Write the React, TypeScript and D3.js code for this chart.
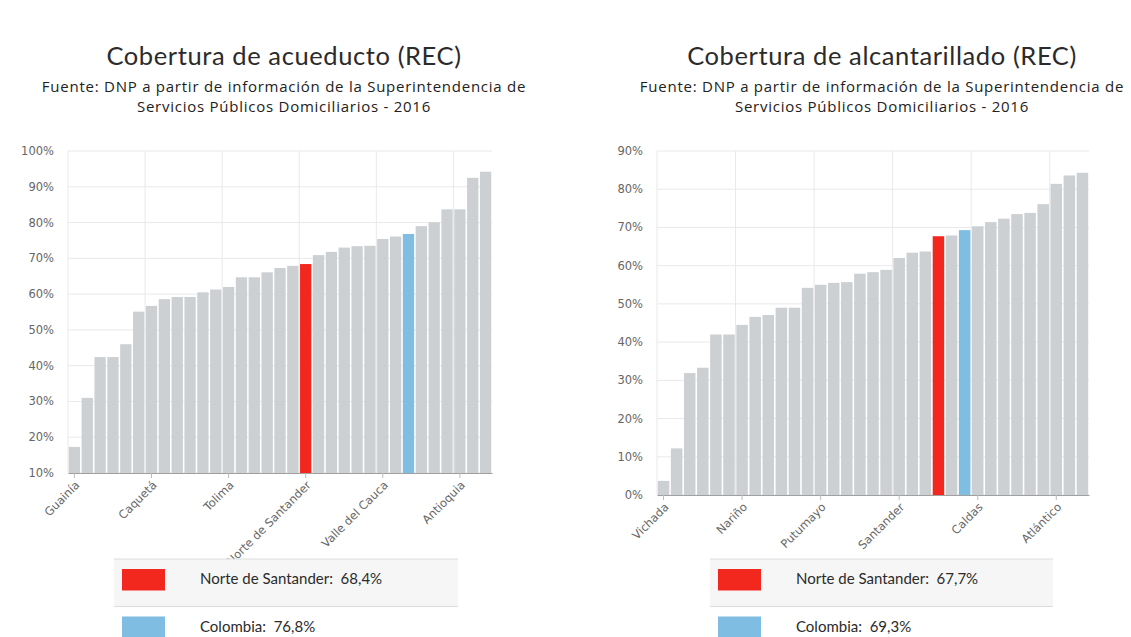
import React, { useEffect, useRef } from 'react';
import * as d3 from 'd3';

// Cobertura de acueducto (REC), 2016 — sorted ascending
const acueductoDepartments = [
  'Guainía', 'Vaupés', 'Vichada', 'Amazonas', 'Chocó', 'Putumayo', 'Caquetá', 'Guaviare',
  'La Guajira', 'Cauca', 'Nariño', 'Córdoba', 'Tolima', 'Arauca', 'Magdalena', 'Sucre',
  'Huila', 'Casanare', 'Norte de Santander', 'Meta', 'Cesar', 'Boyacá', 'Bolívar', 'Santander',
  'Valle del Cauca', 'Caldas', 'Colombia', 'Cundinamarca', 'Risaralda', 'Quindío', 'Antioquia',
  'Atlántico', 'Bogotá D.C.',
];
const acueductoCoverage = [
  17.3, 31.0, 42.4, 42.4, 46.0, 55.1, 56.7, 58.6,
  59.2, 59.2, 60.5, 61.3, 62.0, 64.7, 64.7, 66.1,
  67.3, 67.9, 68.4, 70.9, 71.8, 73.0, 73.4, 73.5,
  75.4, 76.1, 76.8, 79.0, 80.1, 83.7, 83.7,
  92.5, 94.2,
];
const acueductoTicks = [10, 20, 30, 40, 50, 60, 70, 80, 90, 100];

// Cobertura de alcantarillado (REC), 2016 — sorted ascending
const alcantarilladoDepartments = [
  'Vichada', 'Vaupés', 'Guainía', 'Amazonas', 'Chocó', 'La Guajira', 'Nariño', 'Cauca',
  'Córdoba', 'Guaviare', 'Sucre', 'Caquetá', 'Putumayo', 'Magdalena', 'Bolívar', 'Arauca',
  'Casanare', 'Cesar', 'Santander', 'Boyacá', 'Meta', 'Norte de Santander', 'Huila', 'Colombia',
  'Caldas', 'Tolima', 'Cundinamarca', 'Antioquia', 'Risaralda', 'Valle del Cauca', 'Atlántico',
  'Quindío', 'Bogotá D.C.',
];
const alcantarilladoCoverage = [
  3.7, 12.2, 31.9, 33.3, 42.0, 42.0, 44.5, 46.6,
  47.1, 49.0, 49.0, 54.2, 55.0, 55.5, 55.7, 57.9,
  58.3, 58.9, 62.0, 63.4, 63.7, 67.7, 67.9, 69.3,
  70.3, 71.4, 72.3, 73.5, 73.8, 76.1, 81.4,
  83.6, 84.3,
];
const alcantarilladoTicks = [0, 10, 20, 30, 40, 50, 60, 70, 80, 90];

const SUBTITLE = [
  'Fuente: DNP a partir de información de la Superintendencia de',
  'Servicios Públicos Domiciliarios - 2016',
];
const HIGHLIGHT = 'Norte de Santander';
const NATIONAL = 'Colombia';

const COLORS = {
  bar: '#cdd0d3',
  highlight: '#f2271e',
  national: '#7fbde2',
  grid: '#e9e9e9',
  axis: '#a0a0a0',
  tickText: '#666',
};
const HEAD_FONT = 'Lato, "Open Sans", sans-serif';
const SUB_FONT = '"Open Sans", Lato, sans-serif';
const AXIS_FONT = '"DejaVu Sans", Verdana, sans-serif';

type Layout = {
  x0: number; x1: number; yTop: number; yBottom: number;
  center: number; legendX: number; legendW: number;
};

const fmt = (v: number) => v.toFixed(1).replace('.', ',') + '%';

function Panel({ names, values, ticks, title, layout }: {
  names: string[]; values: number[]; ticks: number[]; title: string; layout: Layout;
}) {
  const axisRef = useRef<SVGGElement>(null);
  const { x0, x1, yTop, yBottom, center, legendX, legendW } = layout;

  const x = d3.scaleBand<string>().domain(names).range([x0, x1]).paddingInner(0.12).paddingOuter(0.06);
  const y = d3.scaleLinear().domain([ticks[0], ticks[ticks.length - 1]]).range([yBottom, yTop]);
  const labelled = names.filter((_, i) => i % 6 === 0);
  const gap = (x.step() * 0.12) / 2;

  useEffect(() => {
    const g = d3.select(axisRef.current!);
    g.selectAll('*').remove();
    g.call(d3.axisBottom(x).tickValues(labelled).tickSize(5).tickSizeOuter(0) as any);
    g.attr('font-family', AXIS_FONT).attr('font-size', 11.5);
    g.select('.domain').attr('stroke', COLORS.axis);
    g.selectAll('.tick line').attr('stroke', '#bbb');
    g.selectAll('.tick text')
      .attr('x', 0)
      .attr('y', 0)
      .attr('dy', '0.35em')
      .attr('transform', 'translate(3,10) rotate(-45)')
      .attr('fill', COLORS.tickText)
      .style('text-anchor', 'end');
  }, [names.join('|'), x0, x1, yBottom]);

  const colorOf = (n: string) => (n === HIGHLIGHT ? COLORS.highlight : n === NATIONAL ? COLORS.national : COLORS.bar);
  const legend = [HIGHLIGHT, NATIONAL].map((n) => ({ name: n, value: values[names.indexOf(n)], color: colorOf(n) }));

  return (
    <g>
      <text x={center} y={65} textAnchor="middle" fontFamily={HEAD_FONT} fontSize={25.5} fill="#2b2b2b" letterSpacing={0.6}>
        {title}
      </text>
      {SUBTITLE.map((line, i) => (
        <text key={i} x={center} y={91.5 + i * 20.5} textAnchor="middle" fontFamily={SUB_FONT} fontSize={15}
          fill="#222" letterSpacing={0.75}>
          {line}
        </text>
      ))}

      {/* grid */}
      {ticks.map((t) => (
        <line key={'h' + t} x1={x0} x2={x1} y1={y(t)} y2={y(t)} stroke={COLORS.grid} />
      ))}
      {labelled.map((n) => (
        <line key={'v' + n} x1={x(n)! - gap} x2={x(n)! - gap} y1={yTop} y2={yBottom} stroke={COLORS.grid} />
      ))}

      {/* y labels */}
      {ticks.map((t) => (
        <text key={'yl' + t} x={x0 - 14} y={y(t)} dy="0.35em" textAnchor="end" fontFamily={AXIS_FONT} fontSize={11.5} fill={COLORS.tickText}>
          {t}%
        </text>
      ))}

      {/* bars */}
      {names.map((n, i) => (
        <rect key={n} x={x(n)} y={y(values[i])} width={x.bandwidth()} height={yBottom - y(values[i])} fill={colorOf(n)} />
      ))}

      <g ref={axisRef} transform={`translate(0,${yBottom})`} />

      {/* legend */}
      <rect x={legendX} y={559} width={legendW} height={47.5} fill="#f6f6f6" />
      <line x1={legendX} x2={legendX + legendW} y1={559} y2={559} stroke="#dcdcdc" />
      <line x1={legendX} x2={legendX + legendW} y1={606.5} y2={606.5} stroke="#dcdcdc" />
      {legend.map((d, i) => (
        <g key={d.name} transform={`translate(0,${i * 47.5})`}>
          <rect x={legendX + 8} y={569} width={43} height={21.5} fill={d.color} />
          <text x={legendX + 86} y={584} fontFamily={HEAD_FONT} fontSize={15} fill="#2b2b2b" style={{ whiteSpace: 'pre' }}>
            {`${d.name}:  ${fmt(d.value)}`}
          </text>
        </g>
      ))}
    </g>
  );
}

export default function App() {
  return (
    <svg width={1131} height={637} style={{ position: 'absolute', left: 0, top: 0, background: '#fff' }}>
      <Panel
        names={acueductoDepartments}
        values={acueductoCoverage}
        ticks={acueductoTicks}
        title="Cobertura de acueducto (REC)"
        layout={{ x0: 68, x1: 492, yTop: 151, yBottom: 473, center: 284, legendX: 114, legendW: 344 }}
      />
      <Panel
        names={alcantarilladoDepartments}
        values={alcantarilladoCoverage}
        ticks={alcantarilladoTicks}
        title="Cobertura de alcantarillado (REC)"
        layout={{ x0: 657, x1: 1089, yTop: 151, yBottom: 495, center: 882, legendX: 710, legendW: 343 }}
      />
    </svg>
  );
}
